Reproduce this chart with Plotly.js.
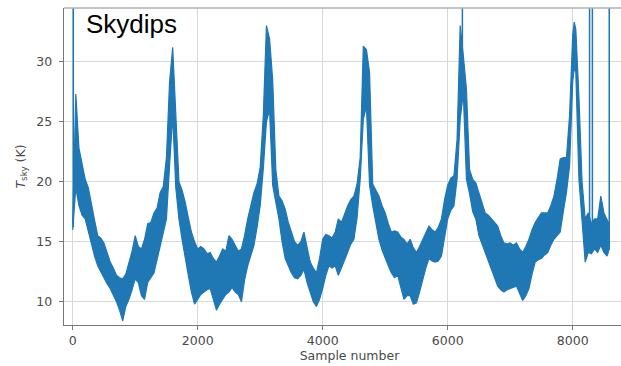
<!DOCTYPE html>
<html>
<head>
<meta charset="utf-8">
<script src="https://cdn.plot.ly/plotly-3.0.1.min.js"></script>
<style>
  html, body { margin: 0; padding: 0; overflow: hidden; background: #fff; }
  #chart { width: 635px; height: 366px; }
</style>
</head>
<body>
<div id="chart"></div>
<script>
// Sample positions where the noisy band was read
const sampleIdx = [0,50,100,150,200,250,300,350,400,450,500,550,600,650,700,750,800,850,900,950,
  1000,1050,1100,1150,1200,1250,1300,1350,1400,1450,1500,1550,1600,1650,1700,1750,1800,1850,1900,1950,
  2000,2050,2100,2150,2200,2250,2300,2350,2400,2450,2500,2550,2600,2650,2700,2750,2800,2850,2900,2950,
  3000,3050,3100,3150,3200,3250,3300,3350,3400,3450,3500,3550,3600,3650,3700,3750,3800,3850,3900,3950,
  4000,4050,4100,4150,4200,4250,4300,4350,4400,4450,4500,4550,4600,4650,4700,4750,4800,4850,4900,4950,
  5000,5050,5100,5150,5200,5250,5300,5350,5400,5450,5500,5550,5600,5650,5700,5750,5800,5850,5900,5950,
  6000,6050,6100,6150,6200,6250,6300,6350,6400,6450,6500,6550,6600,6650,6700,6750,6800,6850,6900,6950,
  7000,7050,7100,7150,7200,7250,7300,7350,7400,7450,7500,7550,7600,7650,7700,7750,7800,7850,7900,7950,
  8000,8025,8050,8100,8150,8200,8250,8300,8350,8400,8450,8500,8550,8580];

// Upper envelope of the noisy T_sky (K) trace
const tskyHigh = [16.5,27.3,22.8,21.6,20.2,19.5,18.0,16.8,15.5,15.3,14.9,14.0,13.3,12.8,12.2,12.0,11.9,12.3,13.3,14.2,
  15.5,14.6,14.4,15.2,16.5,16.6,17.4,17.8,19.1,19.6,22.0,28.3,31.2,25.0,20.0,19.3,18.3,17.0,15.8,15.0,
  14.4,14.6,14.4,14.0,14.1,13.6,13.3,13.8,14.4,14.2,15.5,15.2,14.7,14.2,14.4,15.5,16.9,17.9,19.1,19.8,
  21.2,25.5,33.0,31.9,28.5,21.0,18.8,18.4,17.7,16.6,15.8,15.0,14.7,15.0,15.8,14.5,13.3,12.8,12.4,13.6,
  15.2,15.6,15.5,15.3,15.8,16.9,16.6,17.3,18.0,18.5,18.8,19.8,22.0,31.3,31.0,29.1,19.8,19.3,18.8,18.0,
  17.4,16.5,15.8,15.9,15.8,15.4,15.2,14.8,15.2,14.5,14.1,14.6,15.2,15.8,16.3,16.0,15.8,16.2,16.9,18.5,
  19.7,20.3,20.5,23.5,33.0,30.5,27.7,21.0,20.2,19.9,19.1,18.3,17.4,17.2,16.9,16.6,16.3,15.5,14.9,14.8,
  14.9,14.7,14.9,14.4,14.1,14.6,15.2,16.0,16.6,17.0,17.4,17.4,17.4,18.0,18.8,20.2,21.9,22.0,22.0,25.5,
  32.2,33.3,32.7,27.0,20.0,16.9,17.4,16.5,16.9,16.9,18.8,17.4,16.9,16.5];

// Lower envelope of the noisy T_sky (K) trace
const tskyLow = [16.0,19.5,18.0,17.2,16.9,15.8,14.7,13.8,13.0,12.5,11.9,11.5,11.1,10.6,10.0,9.3,8.4,9.6,10.2,11.0,
  11.9,11.6,10.5,10.2,11.6,12.0,12.4,13.5,14.7,15.8,16.9,21.3,25.5,19.5,16.9,15.2,13.6,12.2,10.8,9.8,
  10.2,10.6,10.8,11.0,11.1,10.2,9.3,9.8,10.2,10.6,10.8,11.2,10.8,10.6,10.0,11.8,13.0,13.8,14.7,16.2,
  18.0,21.1,25.0,26.0,19.7,18.3,16.9,15.0,13.6,13.0,12.4,12.0,11.9,12.2,12.7,11.6,10.8,10.0,9.6,10.2,
  11.1,12.2,13.0,12.8,13.0,12.2,12.8,13.5,14.1,14.8,15.2,17.0,20.2,25.2,26.3,19.7,18.0,16.5,15.2,14.3,
  13.6,13.0,12.4,12.0,12.2,11.2,10.2,10.5,10.5,9.8,9.9,10.8,11.9,12.8,13.6,13.4,13.3,13.4,13.8,15.4,
  16.9,17.6,18.0,20.2,25.2,27.4,20.2,19.0,17.5,16.9,15.5,14.8,14.1,13.4,12.7,12.0,11.3,11.0,10.8,11.0,
  11.1,11.2,11.3,10.7,10.1,10.5,11.1,12.3,13.3,13.5,13.6,13.9,14.1,14.7,15.2,15.5,15.8,17.5,19.1,21.3,
  28.3,29.5,29.1,20.2,16.9,13.3,14.1,14.0,14.4,14.1,14.7,14.1,13.8,14.3];

// Isolated spikes that leave the top of the plot
const spikeIdx  = [10, 6235, 8270, 8315, 8585];
const spikeBase = [16.2, 27.0, 14.5, 14.5, 14.3];
const spikeTop  = [45, 45, 45, 45, 45];

const xTickVals = [0, 2000, 4000, 6000, 8000];
const yTickVals = [10, 15, 20, 25, 30];

const blue = '#1f77b4';

const spikeX = [], spikeY = [];
spikeIdx.forEach((s, i) => { spikeX.push(s, s, null); spikeY.push(spikeBase[i], spikeTop[i], null); });

const traces = [
  { x: sampleIdx, y: tskyHigh, type: 'scatter', mode: 'lines',
    line: { color: blue, width: 1.2 }, hoverinfo: 'skip', showlegend: false },
  { x: sampleIdx, y: tskyLow, type: 'scatter', mode: 'lines', fill: 'tonexty', fillcolor: blue,
    line: { color: blue, width: 1.2 }, hoverinfo: 'skip', showlegend: false },
  { x: spikeX, y: spikeY, type: 'scatter', mode: 'lines', connectgaps: false,
    line: { color: blue, width: 1.5 }, hoverinfo: 'skip', showlegend: false }
];

const tickFont = { family: 'DejaVu Sans, sans-serif', size: 12.5, color: '#4a4a4a' };

const layout = {
  width: 635, height: 366,
  margin: { l: 64, r: 0, t: 8, b: 41 },
  paper_bgcolor: '#fff', plot_bgcolor: '#fff',
  xaxis: {
    range: [-139, 8997], tickvals: xTickVals, ticktext: xTickVals.map(String),
    showgrid: true, gridcolor: '#d9d9d9', gridwidth: 1.5, zeroline: false,
    showline: true, linecolor: '#777', linewidth: 1.3,
    ticks: 'outside', ticklen: 4, tickcolor: '#777', tickfont: tickFont,
    automargin: false,
    title: { text: 'Sample number', font: tickFont, standoff: 4 }
  },
  yaxis: {
    range: [8.06, 34.47], tickvals: yTickVals, ticktext: yTickVals.map(String),
    showgrid: true, gridcolor: '#d9d9d9', gridwidth: 1.5, zeroline: false,
    showline: true, linecolor: '#777', linewidth: 1.3,
    ticks: 'outside', ticklen: 4, tickcolor: '#777', tickfont: tickFont,
    ticklabelstandoff: 4, automargin: false,
    title: { text: '<i>T</i><sub>sky</sub> (K)', font: tickFont, standoff: 8 }
  },
  shapes: [
    { type: 'line', xref: 'paper', yref: 'paper', x0: 0, x1: 1, y0: 1, y1: 1,
      line: { color: '#b0b0b0', width: 1.3 } }
  ],
  annotations: [
    { text: 'Skydips', xref: 'paper', yref: 'paper', x: 0.035, y: 0.9495,
      xanchor: 'left', yanchor: 'middle', showarrow: false,
      font: { family: 'Liberation Sans, Arial, sans-serif', size: 26, color: '#000' } }
  ]
};

Plotly.newPlot('chart', traces, layout, { staticPlot: true, displayModeBar: false });
</script>
</body>
</html>
